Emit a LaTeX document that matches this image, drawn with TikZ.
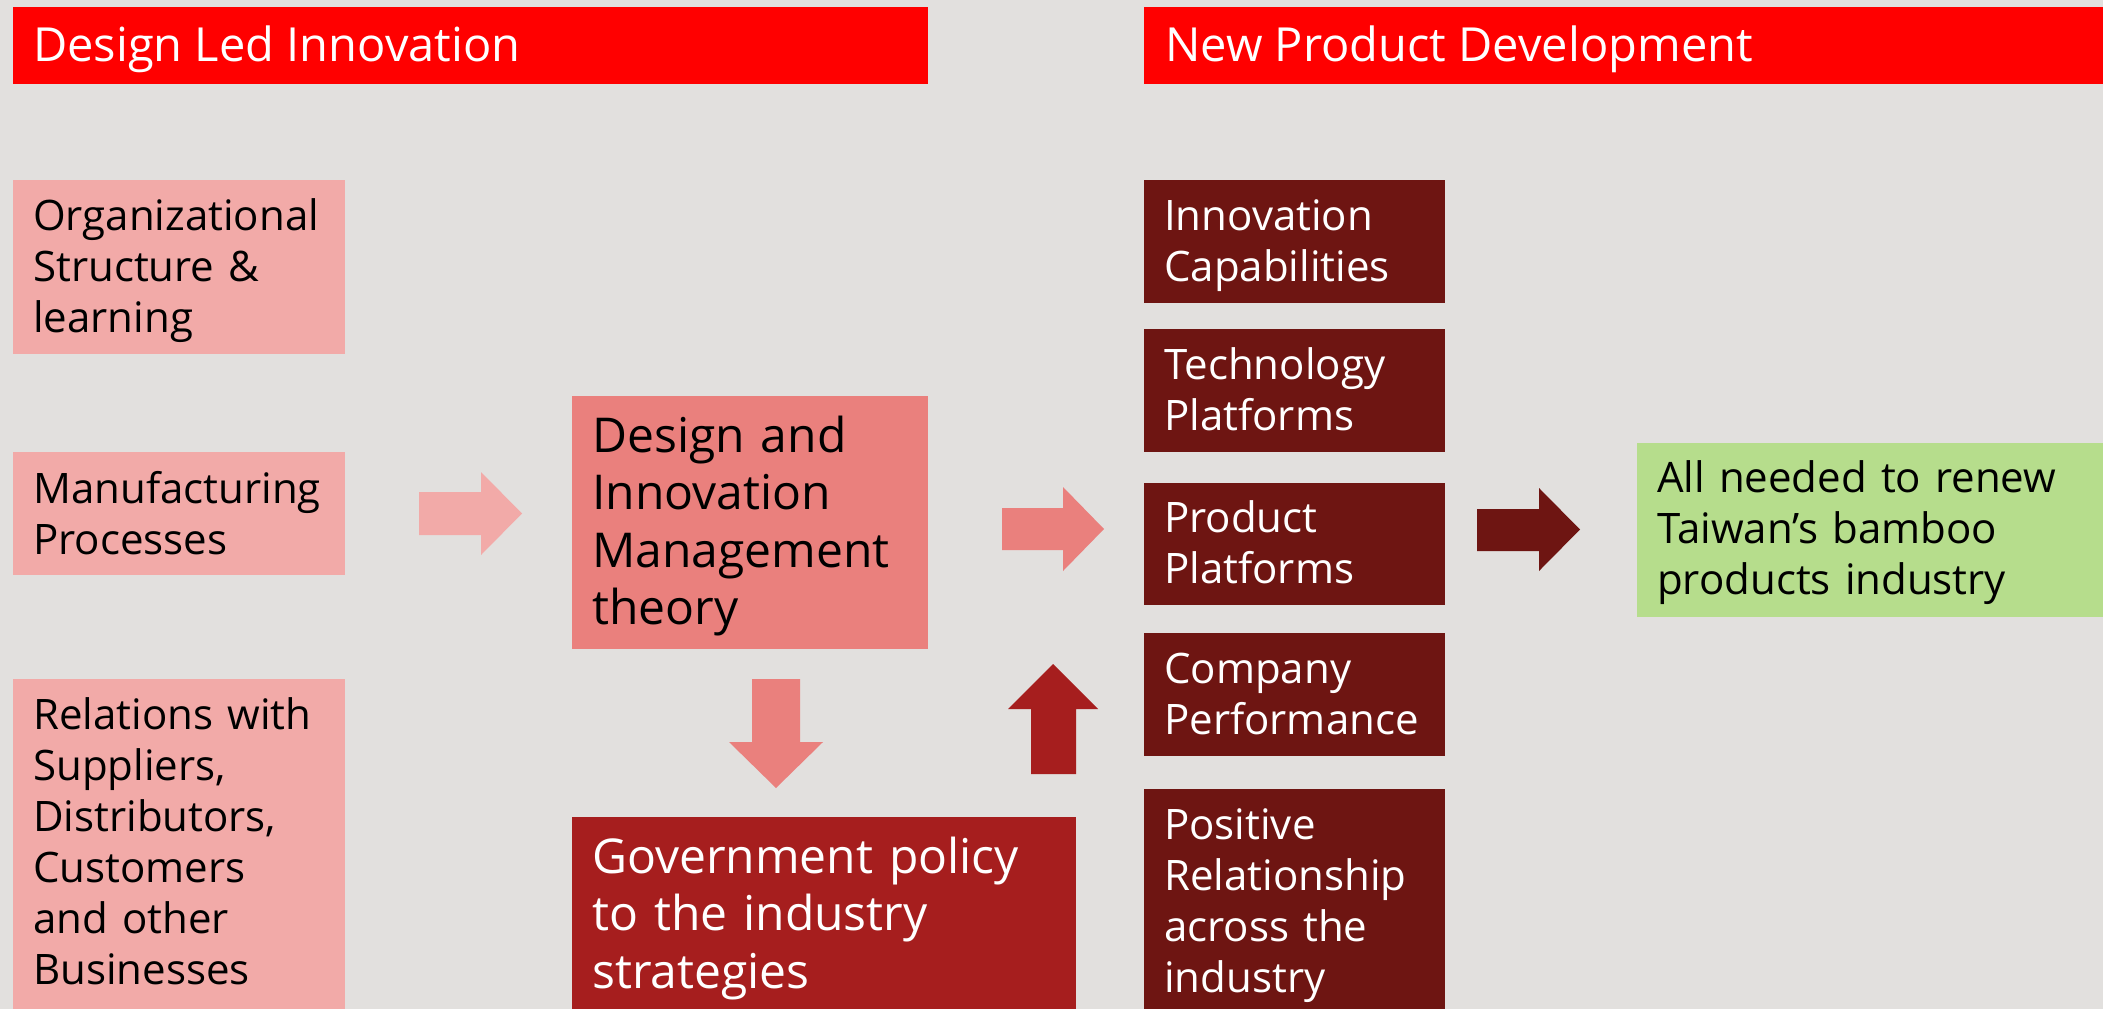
\documentclass[tikz,border=0pt]{standalone}
\usepackage{fontspec}
\setmainfont{Open Sans}
\definecolor{bgcol}{HTML}{E2E0DE}
\definecolor{headred}{HTML}{FF0000}
\definecolor{lightpink}{HTML}{F2AAA8}
\definecolor{salmon}{HTML}{EA807D}
\definecolor{govred}{HTML}{A61E1E}
\definecolor{darkred}{HTML}{6E1512}
\definecolor{greenbox}{HTML}{B6DD8C}
\begin{document}
\begin{tikzpicture}[x=1pt,y=-1pt,
  box/.style={draw=none, inner sep=0pt, outer sep=0pt, anchor=north west},
  body/.style={font=\fontsize{42}{51}\selectfont, inner sep=0pt, anchor=base west, align=left, text width=420pt},
  big/.style={font=\fontsize{48}{57.5}\selectfont, inner sep=0pt, anchor=base west, align=left, text width=520pt},
  headtext/.style={font=\fontsize{47}{56}\selectfont, inner sep=0pt, anchor=base west, text=white}
]
\useasboundingbox (0,0) rectangle (2103,1009);
\fill[bgcol] (0,0) rectangle (2103,1009);

% headers
\node[box, fill=headred, minimum width=915pt, minimum height=77pt] (h1) at (13,7) {};
\node[headtext] (h1t) at (33,61) {Design Led Innovation};
\node[box, fill=headred, minimum width=959pt, minimum height=77pt] (h2) at (1144,7) {};
\node[headtext] (h2t) at (1165,61) {New Product Development};

% left column
\node[box, fill=lightpink, minimum width=332pt, minimum height=174pt] (org) at (13,180) {};
\node[body] (orgt) at (33,230) {Organizational\\Structure \&\\learning};
\node[box, fill=lightpink, minimum width=332pt, minimum height=123pt] (manu) at (13,452) {};
\node[body] (manut) at (33,503) {Manufacturing\\Processes};
\node[box, fill=lightpink, minimum width=332pt, minimum height=330pt] (rel) at (13,679) {};
\node[body] (relt) at (33,729) {Relations with\\Suppliers,\\Distributors,\\Customers\\and other\\Businesses};

% middle
\node[box, fill=salmon, minimum width=356pt, minimum height=253pt] (dim) at (572,396) {};
\node[big] (dimt) at (592,452) {Design and\\Innovation\\Management\\theory};
\node[box, fill=govred, minimum width=504pt, minimum height=192pt] (gov) at (572,817) {};
\node[big, text=white] (govt) at (592,873) {Government policy\\to the industry\\strategies};

% right column
\node[box, fill=darkred, minimum width=301pt, minimum height=123pt] (innov) at (1144,180) {};
\node[body, text=white] (innovt) at (1164,230) {Innovation\\Capabilities};
\node[box, fill=darkred, minimum width=301pt, minimum height=123pt] (tech) at (1144,329) {};
\node[body, text=white] (techt) at (1164,379) {Technology\\Platforms};
\node[box, fill=darkred, minimum width=301pt, minimum height=122pt] (prod) at (1144,483) {};
\node[body, text=white] (prodt) at (1164,532) {Product\\Platforms};
\node[box, fill=darkred, minimum width=301pt, minimum height=123pt] (comp) at (1144,633) {};
\node[body, text=white] (compt) at (1164,683) {Company\\Performance};
\node[box, fill=darkred, minimum width=301pt, minimum height=220pt] (pos) at (1144,789) {};
\node[body, text=white] (post) at (1164,839) {Positive\\Relationship\\across the\\industry};

% result
\node[box, fill=greenbox, minimum width=466pt, minimum height=174pt] (res) at (1637,443) {};
\node[body] (rest) at (1657,492) {All needed to renew\\Taiwan’s bamboo\\products industry};

% block arrows
\fill[lightpink] (419,492) -- (481,492) -- (481,472) -- (522,513.5) -- (481,555) -- (481,535) -- (419,535) -- cycle;
\fill[salmon] (752,679) -- (800,679) -- (800,742) -- (823,742) -- (776,788) -- (729,742) -- (752,742) -- cycle;
\fill[salmon] (1002,508) -- (1063,508) -- (1063,487) -- (1104,529) -- (1063,571) -- (1063,550) -- (1002,550) -- cycle;
\fill[govred] (1031,774) -- (1031,709) -- (1008,709) -- (1053,664) -- (1098,709) -- (1076,709) -- (1076,774) -- cycle;
\fill[darkred] (1477,509) -- (1539,509) -- (1539,488) -- (1580,529.5) -- (1539,571) -- (1539,551) -- (1477,551) -- cycle;
\end{tikzpicture}
\end{document}
